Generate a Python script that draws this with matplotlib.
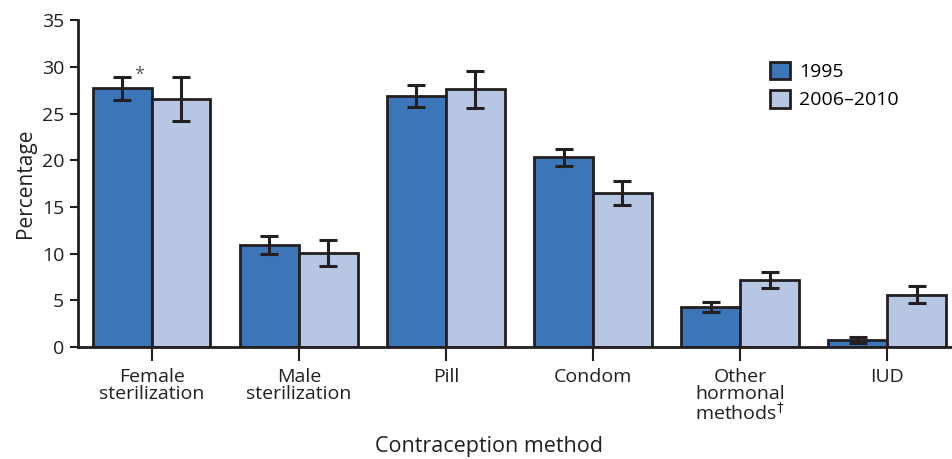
import matplotlib.pyplot as plt
import numpy as np

plt.rcParams['font.family'] = ['Open Sans', 'DejaVu Sans']
plt.rcParams['mathtext.fontset'] = 'dejavusans'

methods = ["Female\nsterilization", "Male\nsterilization", "Pill", "Condom",
           "Other\nhormonal\nmethods$^{\u2020}$", "IUD"]
y1995 = [27.7, 10.9, 26.9, 20.3, 4.25, 0.75]
err1995 = [1.2, 0.95, 1.15, 0.95, 0.55, 0.3]
y2006 = [26.6, 10.05, 27.6, 16.5, 7.2, 5.6]
err2006 = [2.35, 1.4, 1.95, 1.3, 0.85, 0.93]

blue = "#3d76b8"
light = "#b7c6e3"
edge = "#231f20"

fig = plt.figure(figsize=(9.52, 4.59), dpi=100)
ax = fig.add_axes([0.082, 0.244, 0.918, 0.712])

x = np.arange(len(methods))
w = 0.4
ax.bar(x - w / 2, y1995, w, color=blue, edgecolor=edge, linewidth=2, label="1995", zorder=2)
ax.bar(x + w / 2, y2006, w, color=light, edgecolor=edge, linewidth=2, label="2006\u20132010", zorder=2)
ax.errorbar(x - w / 2, y1995, yerr=err1995, fmt="none", ecolor=edge, elinewidth=2.2,
            capsize=6.5, capthick=2.2, zorder=3)
ax.errorbar(x + w / 2, y2006, yerr=err2006, fmt="none", ecolor=edge, elinewidth=2.2,
            capsize=6.5, capthick=2.2, zorder=3)

# significance mark on female sterilization 1995
ax.text(x[0] - w / 2 + 0.08, y1995[0] + err1995[0] + 0.2, "*", fontsize=13,
        color="#555555", ha="left", va="center")

ax.set_xlim(-0.5, 5.44)
ax.set_ylim(0, 35)
ax.set_yticks(range(0, 36, 5))
ax.set_xticks(x)
ax.set_xticklabels(methods, fontsize=14, linespacing=0.95, color=edge)
ax.tick_params(axis="y", labelsize=14, length=6, width=1.5, colors=edge, pad=4)
ax.tick_params(axis="x", length=10, width=1.5, colors=edge, pad=5)
for s in ["top", "right"]:
    ax.spines[s].set_visible(False)
for s in ["left", "bottom"]:
    ax.spines[s].set_linewidth(2)
    ax.spines[s].set_color(edge)

ax.set_ylabel("Percentage", fontsize=15, color=edge, labelpad=4)
ax.set_xlabel("Contraception method", fontsize=15.5, color=edge)
ax.xaxis.set_label_coords(0.47, -0.272)

ax.legend(loc="upper left", bbox_to_anchor=(0.792, 0.872), frameon=False, fontsize=14,
          handlelength=1.0, handleheight=1.0, handletextpad=0.5, labelspacing=0.45,
          borderpad=0, borderaxespad=0)

fig.savefig("out.png", dpi=100)
